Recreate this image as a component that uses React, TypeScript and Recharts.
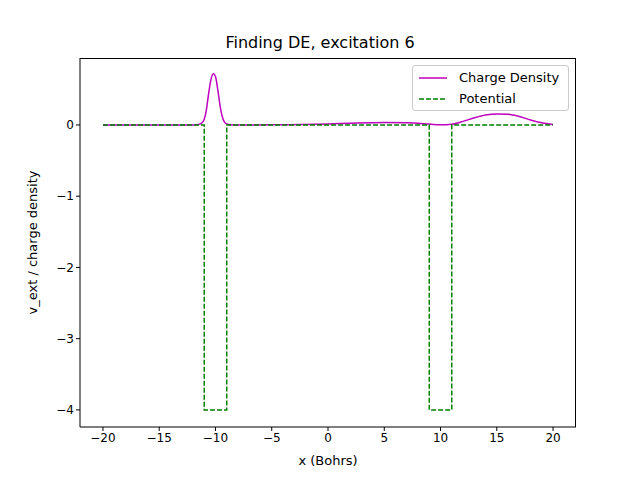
import React from 'react';
import { ComposedChart, Line, XAxis, YAxis, Label } from 'recharts';

const densityX = [-20, -12, -11.5, -11.2, -11, -10.8, -10.6, -10.4, -10.2, -10, -9.8, -9.6, -9.4, -9.2, -9, -8.7, -8, -5, 0, 2, 5, 7, 9, 10, 11, 12, 13, 14, 15, 16, 17, 18, 19, 20];
const densityY = [0, 0, 0.005, 0.03, 0.08, 0.22, 0.45, 0.64, 0.72, 0.68, 0.5, 0.28, 0.12, 0.04, 0.015, 0.003, 0, 0.002, 0.015, 0.025, 0.035, 0.03, 0.012, 0.002, 0.01, 0.05, 0.1, 0.14, 0.155, 0.15, 0.12, 0.07, 0.03, 0.005];
const potX = [-20, -11, -11, -9, -9, 9, 9, 11, 11, 20];
const potY = [0, 0, -4, -4, 0, 0, -4, -4, 0, 0];
const xTicks = [-20, -15, -10, -5, 0, 5, 10, 15, 20];
const yTicks = [-4, -3, -2, -1, 0];

const density = densityX.map((x, i) => ({ x, y: densityY[i] }));
const potential = potX.map((x, i) => ({ x, y: potY[i] }));

const font = 'DejaVu Sans';
const fmt = (v: number) => (v < 0 ? '\u2212' + Math.abs(v) : String(v));

const LegendBox = () => (
  <div style={{ position: 'absolute', left: 412, top: 65, border: '1px solid #ccc', borderRadius: 3, background: '#fff', padding: '1px 6px', fontFamily: font, fontSize: 13, lineHeight: '21px', width: 143 }}>
    <div style={{ display: 'flex', alignItems: 'center' }}>
      <svg width={30} height={10}><line x1={0} y1={5} x2={28} y2={5} stroke="#bf00bf" strokeWidth={1.5} /></svg>
      <span style={{ marginLeft: 10 }}>Charge Density</span>
    </div>
    <div style={{ display: 'flex', alignItems: 'center' }}>
      <svg width={30} height={10}><line x1={0} y1={5} x2={28} y2={5} stroke="#008000" strokeWidth={1.5} strokeDasharray="5 2" /></svg>
      <span style={{ marginLeft: 10 }}>Potential</span>
    </div>
  </div>
);

export default function App() {
  return (
    <div style={{ position: 'absolute', left: 0, top: 0, width: 640, height: 480, background: '#fff' }}>
      <div style={{ position: 'absolute', top: 33, width: 640, textAlign: 'center', fontFamily: font, fontSize: 16 }}>
        Finding DE, excitation 6
      </div>
      <ComposedChart width={640} height={480} margin={{ top: 58, right: 64, bottom: 23, left: 30 }}>
        <XAxis dataKey="x" type="number" domain={[-22.04, 22.04]} ticks={xTicks} allowDataOverflow tickFormatter={fmt}
          stroke="#000" tick={{ fill: '#000', fontSize: 12, fontFamily: font }} tickSize={4} height={30}>
          <Label value="x (Bohrs)" position="insideBottom" offset={-8} style={{ fill: '#000', fontSize: 13, fontFamily: font }} />
        </XAxis>
        <YAxis dataKey="y" type="number" domain={[-4.24, 0.94]} ticks={yTicks} allowDataOverflow tickFormatter={fmt}
          stroke="#000" tick={{ fill: '#000', fontSize: 12, fontFamily: font }} tickSize={4} width={50}>
          <Label value="v_ext / charge density" angle={-90} position="insideLeft" offset={2} style={{ fill: '#000', fontSize: 13, fontFamily: font, textAnchor: 'middle' }} />
        </YAxis>
        <Line data={density} dataKey="y" type="monotone" stroke="#bf00bf" strokeWidth={1.5} dot={false} isAnimationActive={false} />
        <Line data={potential} dataKey="y" type="linear" stroke="#008000" strokeWidth={1.5} strokeDasharray="5 2" dot={false} isAnimationActive={false} />
      </ComposedChart>
      <div style={{ position: 'absolute', left: 80, top: 58, width: 496, height: 369, borderTop: '1px solid #000', borderRight: '1px solid #000', boxSizing: 'border-box', pointerEvents: 'none' }} />
      <LegendBox />
    </div>
  );
}
